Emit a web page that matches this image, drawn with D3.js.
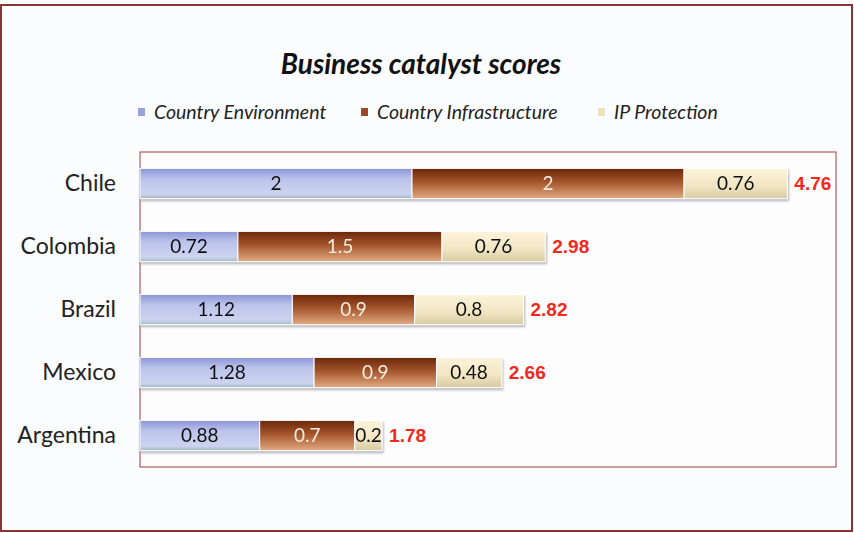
<!DOCTYPE html>
<html>
<head>
<meta charset="utf-8">
<script src="https://cdn.jsdelivr.net/npm/d3@7"></script>
<style>
  body { margin: 0; background: #fff; }
  svg { display: block; }
</style>
</head>
<body>
<div id="chart"></div>
<script>
const countries = ["Chile", "Colombia", "Brazil", "Mexico", "Argentina"];
const environment = [2, 0.72, 1.12, 1.28, 0.88];
const infrastructure = [2, 1.5, 0.9, 0.9, 0.7];
const ipProtection = [0.76, 0.76, 0.8, 0.48, 0.2];
const seriesNames = ["Country Environment", "Country Infrastructure", "IP Protection"];

const W = 854, H = 533;
const plot = { left: 140, top: 152, right: 836, bottom: 467 };

const rows = countries.map((c, i) => ({
  country: c,
  env: environment[i],
  infra: infrastructure[i],
  ip: ipProtection[i]
}));
const keys = ["env", "infra", "ip"];
const series = d3.stack().keys(keys)(rows);

const svg = d3.select("#chart").append("svg")
  .attr("width", W).attr("height", H);

const defs = svg.append("defs");
function grad(id, stops) {
  const g = defs.append("linearGradient").attr("id", id)
    .attr("x1", 0).attr("y1", 0).attr("x2", 0).attr("y2", 1);
  stops.forEach(s => g.append("stop").attr("offset", s[0]).attr("stop-color", s[1]));
}
grad("g-env", [["0%", "#8b95d4"], ["35%", "#bcc3ec"], ["85%", "#ccd4ef"], ["100%", "#9fb8bf"]]);
grad("g-infra", [["0%", "#6a260a"], ["45%", "#a4552b"], ["100%", "#e2aa82"]]);
grad("g-ip", [["0%", "#fcf3da"], ["60%", "#f1e5c2"], ["100%", "#d6caa2"]]);
const fills = { env: "url(#g-env)", infra: "url(#g-infra)", ip: "url(#g-ip)" };
const legendColors = ["#9aa3dc", "#9a4a22", "#ece2c0"];
const labelColors = { env: "#111", infra: "#f6ece2", ip: "#111" };

const shadow = defs.append("filter").attr("id", "shadow")
  .attr("x", "-5%").attr("y", "-20%").attr("width", "115%").attr("height", "160%");
shadow.append("feDropShadow").attr("dx", 1).attr("dy", 2).attr("stdDeviation", 1)
  .attr("flood-color", "#556").attr("flood-opacity", 0.45);

// background + outer frame
svg.append("rect").attr("x", 1).attr("y", 5).attr("width", W - 3).attr("height", H - 7)
  .attr("fill", "#fbfcfe").attr("stroke", "#8a3434").attr("stroke-width", 2);

// plot area frame
svg.append("rect")
  .attr("x", plot.left).attr("y", plot.top)
  .attr("width", plot.right - plot.left).attr("height", plot.bottom - plot.top)
  .attr("fill", "#fdfdfe").attr("stroke", "#b06060").attr("stroke-width", 1.2);

const x = d3.scaleLinear().domain([0, 5]).range([plot.left, plot.left + 680]);
const y = d3.scaleBand().domain(countries).range([plot.top, plot.bottom])
  .paddingInner(0.52).paddingOuter(0.26);

// title
svg.append("text")
  .attr("x", 421).attr("y", 74)
  .attr("text-anchor", "middle")
  .attr("font-family", "Lato, 'Open Sans', sans-serif")
  .attr("font-weight", "bold").attr("font-style", "italic")
  .attr("font-size", 28).attr("fill", "#111")
  .text("Business catalyst scores");

// legend
const legendX = [138, 361, 598];
const legend = svg.append("g");
seriesNames.forEach((name, i) => {
  legend.append("rect").attr("x", legendX[i]).attr("y", 108)
    .attr("width", 7).attr("height", 8).attr("fill", legendColors[i]);
  legend.append("text").attr("x", legendX[i] + 16).attr("y", 119)
    .attr("font-family", "Lato, 'Open Sans', sans-serif")
    .attr("font-style", "italic").attr("font-size", 19.5).attr("fill", "#222")
    .text(name);
});

// category axis labels
const yAxis = d3.axisLeft(y).tickSize(0).tickPadding(24);
svg.append("g")
  .attr("transform", `translate(${plot.left},0)`)
  .call(yAxis)
  .call(g => g.select(".domain").remove())
  .selectAll("text")
  .attr("font-family", "Lato, 'Open Sans', sans-serif")
  .attr("font-size", 23).attr("fill", "#222");

// bars
const barG = svg.append("g").attr("filter", "url(#shadow)");
const layers = barG.selectAll("g.layer").data(series).join("g").attr("class", "layer");
layers.selectAll("rect")
  .data(d => d.map(v => Object.assign(v, { key: d.key })))
  .join("rect")
  .attr("x", d => x(d[0]))
  .attr("y", d => y(d.data.country))
  .attr("width", d => x(d[1]) - x(d[0]))
  .attr("height", y.bandwidth())
  .attr("fill", d => fills[d.key])
  .attr("stroke", "#fff").attr("stroke-width", 1);

// segment value labels
layers.selectAll("text")
  .data(d => d)
  .join("text")
  .attr("x", d => (x(d[0]) + x(d[1])) / 2)
  .attr("y", d => y(d.data.country) + y.bandwidth() / 2)
  .attr("dy", "0.36em")
  .attr("text-anchor", "middle")
  .attr("font-family", "Lato, 'Open Sans', sans-serif")
  .attr("font-size", 19)
  .attr("fill", d => labelColors[d.key])
  .text(d => +(d[1] - d[0]).toFixed(2));

// totals
svg.append("g").selectAll("text")
  .data(rows)
  .join("text")
  .attr("x", d => x(d.env + d.infra + d.ip) + 7)
  .attr("y", d => y(d.country) + y.bandwidth() / 2)
  .attr("dy", "0.36em")
  .attr("font-family", "'Liberation Sans', Arial, sans-serif")
  .attr("font-weight", "bold").attr("font-size", 19)
  .attr("fill", "#f2281c")
  .text(d => (d.env + d.infra + d.ip).toFixed(2));
</script>
</body>
</html>
